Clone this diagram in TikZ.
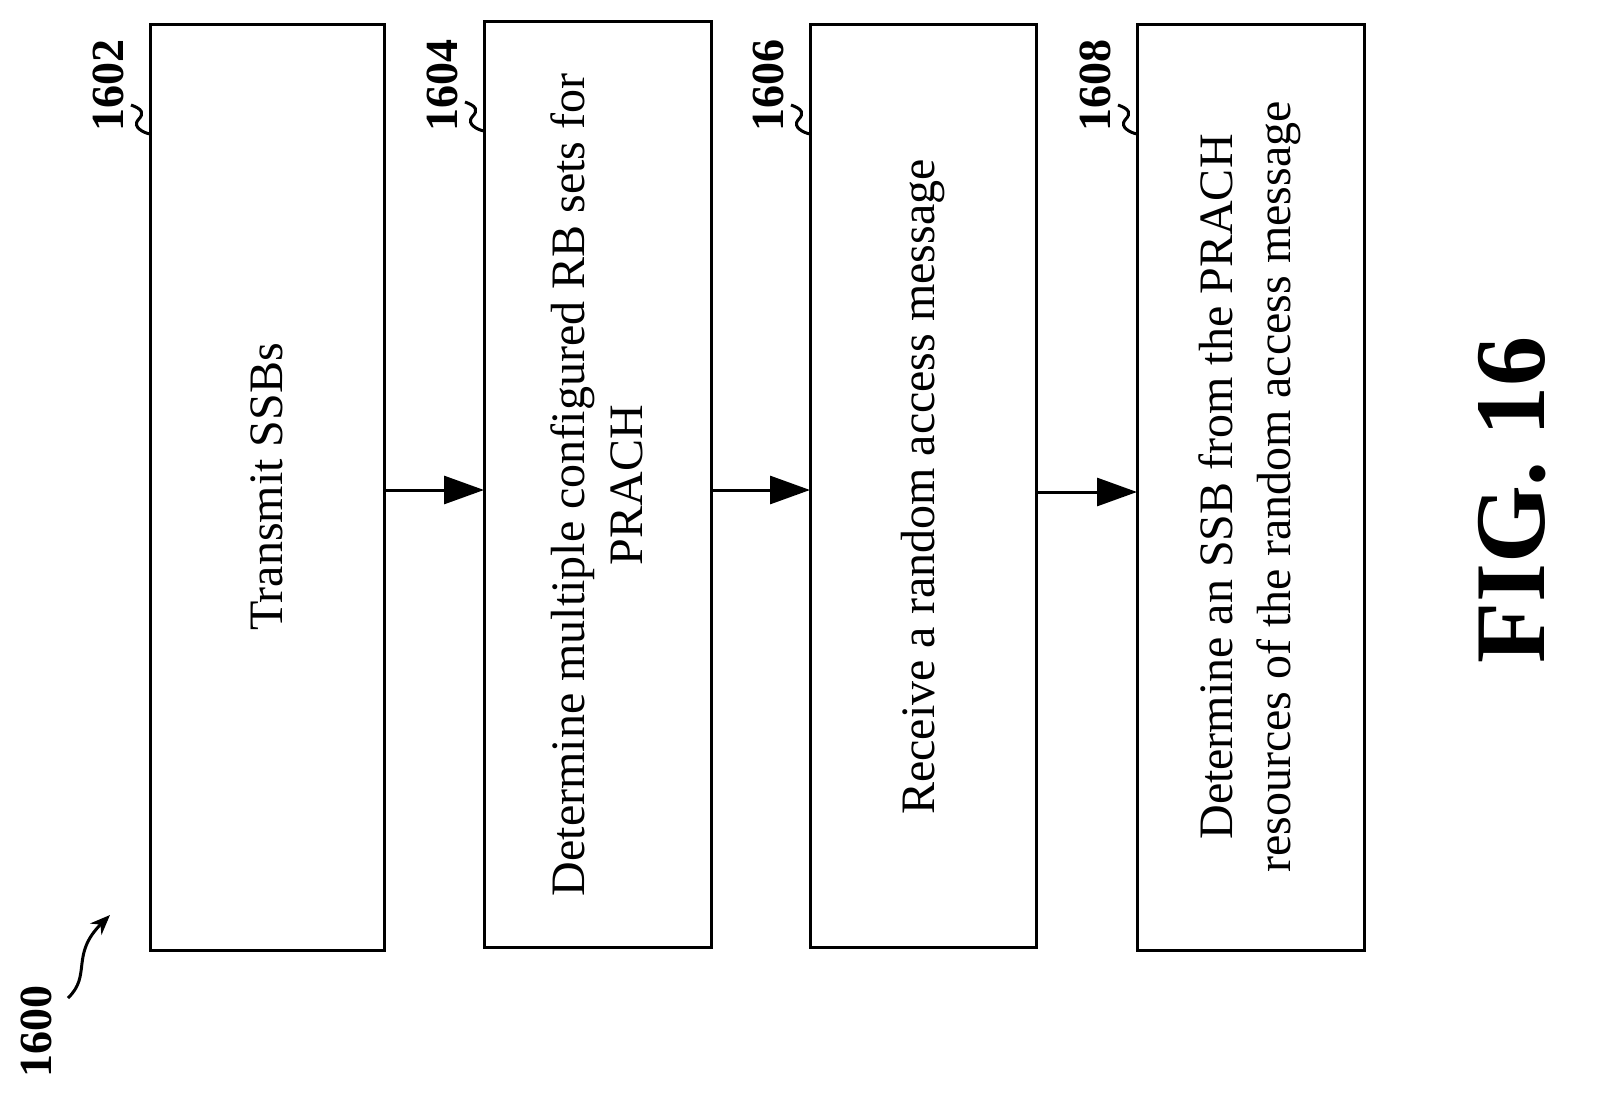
\documentclass[tikz,border=0pt]{standalone}
\usepackage{fontspec}
\setmainfont{Liberation Serif}
\usetikzlibrary{arrows.meta}
\begin{document}
\begin{tikzpicture}[x=1pt,y=-1pt,
  box/.style={draw,line width=3pt},
  btxt/.style={rotate=90,font=\fontsize{48}{58}\selectfont,align=center},
  lbl/.style={rotate=90,font=\fontsize{46}{50}\selectfont\bfseries,anchor=east},
  arr/.style={line width=3pt,-{Triangle[length=40pt,width=28pt]}},
  sq/.style={line width=3pt}]
\draw[box] (150,25) rectangle (384,950);
\draw[box] (484,22) rectangle (711,947);
\draw[box] (810,25) rectangle (1036,947);
\draw[box] (1137,25) rectangle (1364,950);
\node[btxt] (t1) at (267,487) {Transmit SSBs};
\node[btxt] (t2) at (597,485) {Determine multiple configured RB sets for\\PRACH};
\node[btxt] (t3) at (923,487) {Receive a random access message};
\node[btxt] (t4) at (1250,487) {Determine an SSB from the PRACH\\resources of the random access message};
\coordinate (a1) at (384,490); \coordinate (b1) at (484,490);
\coordinate (a2) at (711,490); \coordinate (b2) at (810,490);
\coordinate (a3) at (1036,492); \coordinate (b3) at (1137,492);
\draw[arr] (a1) -- (b1);
\draw[arr] (a2) -- (b2);
\draw[arr] (a3) -- (b3);
\node[lbl] (l1) at (108,36) {1602};
\node[lbl] (l2) at (442,36) {1604};
\node[lbl] (l3) at (768,36) {1606};
\node[lbl] (l4) at (1095,36) {1608};
\foreach \bx/\by in {150/25,484/22,810/25,1137/25}{
  \draw[sq] (\bx-19,\by+80) .. controls (\bx-8,\by+84) and (\bx-5,\by+88) .. (\bx-12,\by+95)
            .. controls (\bx-18,\by+102) and (\bx-6,\by+108) .. (\bx,\by+109);
}
\node[lbl] (l0) at (36,982) {1600};
\coordinate (s0) at (68,998);
\coordinate (e0) at (110,915);
\draw[sq,-{Stealth[length=20pt,width=16pt]}] (s0) .. controls (92,975) and (70,955) .. (e0);
\node[rotate=90,font=\fontsize{100}{104}\selectfont\bfseries] (fig) at (1512,500) {FIG. 16};
\pgfresetboundingbox
\path[use as bounding box] (0,0) rectangle (1599,1116);
\end{tikzpicture}
\end{document}
